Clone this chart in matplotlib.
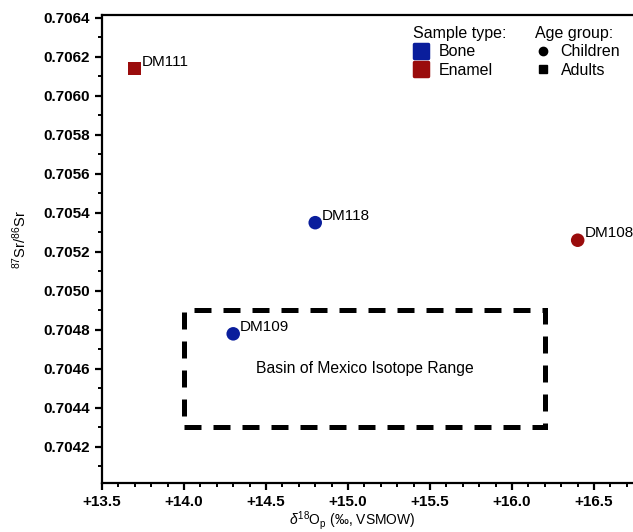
import matplotlib
matplotlib.use('Agg')
import matplotlib.pyplot as plt
from matplotlib.lines import Line2D
from matplotlib.markers import MarkerStyle
from matplotlib.patches import Rectangle

plt.rcParams['font.family'] = ['Liberation Sans', 'DejaVu Sans']
plt.rcParams['mathtext.fontset'] = 'custom'
plt.rcParams['mathtext.rm'] = 'Liberation Sans'
plt.rcParams['mathtext.it'] = 'Liberation Sans:italic'

# samples
names = ['DM111', 'DM118', 'DM108', 'DM109']
d18o = [13.70, 14.80, 16.40, 14.30]
sr = [0.70614, 0.70535, 0.70526, 0.70478]
sample_type = ['Enamel', 'Bone', 'Enamel', 'Bone']
age_group = ['Adults', 'Children', 'Children', 'Children']

# Basin of Mexico range box
box_x = [14.0, 16.2]
box_y = [0.7043, 0.7049]

colors = {'Bone': '#0a1e9c', 'Enamel': '#9a0c0c'}
markers = {'Children': 'o', 'Adults': 's'}

fig = plt.figure(figsize=(6.33, 5.32), dpi=100)
ax = fig.add_axes([0.1611, 0.0921, 0.85, 0.8797])

for n, x, y, s, a in zip(names, d18o, sr, sample_type, age_group):
    ax.scatter(x, y, s=95 if a == 'Children' else 85, marker=markers[a],
               color=colors[s], edgecolor='none', zorder=3)
    ax.annotate(n, (x, y), xytext=(5, 5), textcoords='offset points',
                fontsize=11, ha='left', va='center')

rect = Rectangle((box_x[0], box_y[0]), box_x[1] - box_x[0], box_y[1] - box_y[0],
                 fill=False, lw=3.6, ls=(0, (3.4, 2.4)), ec='black')
ax.add_patch(rect)
ax.text((box_x[0] + box_x[1]) / 2, (box_y[0] + box_y[1]) / 2,
        'Basin of Mexico Isotope Range', ha='center', va='center', fontsize=11.3)

ax.set_xlim(13.5, 16.78)
ax.set_ylim(0.704015, 0.706415)
ax.set_xticks([13.5, 14.0, 14.5, 15.0, 15.5, 16.0, 16.5])
ax.set_xticklabels(['+13.5', '+14.0', '+14.5', '+15.0', '+15.5', '+16.0', '+16.5'])
yt = [0.7042, 0.7044, 0.7046, 0.7048, 0.7050, 0.7052, 0.7054, 0.7056,
      0.7058, 0.7060, 0.7062, 0.7064]
ax.set_yticks(yt)
ax.set_yticklabels(['%.4f' % v for v in yt])
ax.xaxis.set_minor_locator(matplotlib.ticker.MultipleLocator(0.1))
ax.yaxis.set_minor_locator(matplotlib.ticker.MultipleLocator(0.0001))
ax.tick_params(which='major', direction='out', length=5, width=1.6, labelsize=11)
ax.tick_params(which='minor', direction='out', length=3, width=1.4)
for lab in ax.get_xticklabels() + ax.get_yticklabels():
    lab.set_fontweight('bold')
for sp in ['left', 'bottom', 'top']:
    ax.spines[sp].set_linewidth(1.6)
ax.spines['right'].set_visible(False)

ax.set_xlabel(r'$\delta^{18}$O$_\mathrm{p}$ (‰, VSMOW)', fontsize=10)
ax.xaxis.set_label_coords(0.465, -0.056)
ax.set_ylabel(r'$^{87}$Sr/$^{86}$Sr', fontsize=10.5)
ax.yaxis.set_label_coords(-0.135, 0.52)

sq = MarkerStyle('s', joinstyle='round')
h1 = [Line2D([], [], ls='', marker=sq, markersize=10, color=colors[k],
             markeredgewidth=2.5) for k in ['Bone', 'Enamel']]
leg1 = ax.legend(h1, ['Bone', 'Enamel'], title='Sample type:', loc='upper left',
                 bbox_to_anchor=(0.557, 1.0), frameon=False, fontsize=11.5,
                 title_fontsize=11.5, handlelength=1.0, handletextpad=0.6,
                 labelspacing=0.2, borderpad=0.2, alignment='left')
ax.add_artist(leg1)
h2 = [Line2D([], [], ls='', marker='o', markersize=6, color='black'),
      Line2D([], [], ls='', marker='s', markersize=6, color='black')]
ax.legend(h2, ['Children', 'Adults'], title='Age group:', loc='upper left',
          bbox_to_anchor=(0.784, 1.0), frameon=False, fontsize=11.5,
          title_fontsize=11.5, handlelength=1.0, handletextpad=0.6,
          labelspacing=0.2, borderpad=0.2, alignment='left')

fig.savefig('out.png', dpi=100)
